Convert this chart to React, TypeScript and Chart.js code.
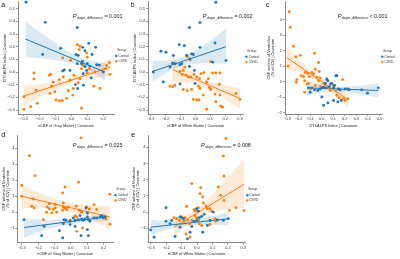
import React, { useEffect, useRef } from 'react';
import { Chart, registerables } from 'chart.js';

Chart.register(...registerables);

const FONT = "'Liberation Sans', Arial, Helvetica, sans-serif";
const BLUE = '#1f77b4';
const ORANGE = '#ff7f0e';
const BLUE_BAND = 'rgba(31,119,180,0.16)';
const ORANGE_BAND = 'rgba(255,127,14,0.16)';
const AXIS = '#555';

// ---------- tick values ----------
const xTicksA = [-0.3, -0.2, -0.1, 0, 0.1, 0.2];
const xTicksB = [-0.3, -0.2, -0.1, 0, 0.1, 0.2, 0.3];
const xTicksC = [-0.3, -0.2, -0.1, 0, 0.1, 0.2, 0.3, 0.4, 0.5];
const yTicksAB = [-0.3, -0.2, -0.1, 0, 0.1, 0.2, 0.3, 0.4, 0.5];
const yTicksC = [-2, -1, 0, 1, 2, 3, 4];
const yTicksDE = [-1, 0, 1, 2, 3, 4];

// ---------- panel a ----------
const aCtrlX = [-0.287,-0.166,-0.182,0.036,-0.069,0.028,0.042,0.07,0.108,0.084,0.152,0.129,0.068,0.036,0.063,0.099,0.116,0.158,0.175,-0.01,-0.056,-0.046,0.084,0.095,0.2,0.074,0.124,0.024,0.074,0.038];
const aCtrlY = [0.551,0.392,0.138,0.351,0.187,0.138,0.13,0.195,0.226,0.169,0.195,0.138,0.083,0.065,0.065,0.065,0.047,0.057,0.055,0.013,0.008,0.016,0.044,0.013,0.0,-0.013,-0.047,-0.099,-0.104,-0.13];
const aCsvdX = [-0.3,-0.3,-0.258,-0.237,-0.237,-0.224,-0.216,-0.14,-0.132,-0.115,-0.056,0.036,0.053,0.049,-0.006,0.095,0.099,0.238,0.221,0.213,0.242,0.179,0.141,0.063,-0.077,-0.058,-0.098,-0.136,-0.126,-0.105,-0.021,0.011,0.007,-0.031,-0.01,0.053,0.099,0.112,0.147,-0.052,-0.077,0.015,0.063,0.074,0.042];
const aCsvdY = [-0.195,-0.294,-0.273,-0.055,-0.008,-0.143,-0.247,-0.026,-0.018,-0.078,0.112,0.216,0.203,0.177,0.091,0.151,0.117,0.075,0.052,0.026,-0.018,-0.13,-0.112,-0.286,-0.226,-0.226,-0.221,-0.169,-0.112,-0.156,-0.148,-0.13,-0.182,-0.208,-0.065,-0.052,-0.008,0.026,0.0,-0.039,-0.06,-0.026,0.026,0.052,-0.086];
const aCtrlLineX = [-0.29, 0.21];
const aCtrlLineY = [0.26, 0.0];
const aCtrlBandX = [-0.29, -0.15, -0.05, 0.05, 0.13, 0.21];
const aCtrlBandLo = [0.12, 0.1, 0.085, 0.053, 0.0, -0.07];
const aCtrlBandHi = [0.4, 0.27, 0.185, 0.113, 0.09, 0.07];
const aCsvdLineX = [-0.3, 0.245];
const aCsvdLineY = [-0.19, 0.04];
const aCsvdBandX = [-0.3, -0.17, -0.05, 0.05, 0.15, 0.245];
const aCsvdBandLo = [-0.27, -0.18, -0.11, -0.07, -0.045, -0.03];
const aCsvdBandHi = [-0.11, -0.09, -0.06, -0.015, 0.045, 0.11];

// ---------- panel b ----------
const bCtrlX = [0.138,0.031,-0.04,-0.108,-0.074,-0.231,-0.197,-0.148,-0.025,-0.014,0.031,0.132,0.206,0.116,-0.036,-0.058,-0.092,-0.103,-0.152,-0.137,-0.17,-0.04,-0.007,-0.282,-0.215,-0.103,-0.002];
const bCtrlY = [0.551,0.39,0.351,0.216,0.208,0.164,0.156,0.13,0.143,0.138,0.195,0.229,0.091,0.078,0.104,0.13,0.065,0.057,0.07,0.065,0.039,0.044,0.013,0.0,-0.078,-0.094,-0.091];
const bCsvdX = [-0.054,-0.036,-0.07,-0.081,-0.103,-0.087,-0.063,-0.047,-0.032,-0.009,0.009,0.027,0.038,0.058,0.076,0.087,0.116,0.138,0.165,-0.17,-0.152,-0.137,-0.081,-0.054,-0.025,0.02,0.031,0.053,0.094,0.103,-0.014,0.009,0.024,0.132,0.161,0.165,0.138,0.076,0.17,0.183,0.273,0.3,0.103];
const bCsvdY = [0.122,0.096,0.039,0.013,0.005,-0.018,-0.026,-0.039,-0.039,-0.018,-0.039,-0.052,-0.013,-0.005,-0.078,-0.052,-0.008,-0.008,-0.008,-0.112,-0.117,-0.104,-0.138,-0.148,-0.138,-0.112,-0.13,-0.182,-0.122,-0.138,-0.216,-0.221,-0.221,-0.174,-0.096,-0.182,-0.234,-0.294,-0.268,-0.278,-0.169,-0.216,0.083];
const bCtrlLineX = [-0.287, 0.206];
const bCtrlLineY = [0.005, 0.2];
const bCtrlBandX = [-0.287, -0.2, -0.1, 0.0, 0.1, 0.206];
const bCtrlBandLo = [-0.08, -0.01, 0.045, 0.065, 0.07, 0.065];
const bCtrlBandHi = [0.09, 0.09, 0.113, 0.17, 0.245, 0.345];
const bCsvdLineX = [-0.152, 0.3];
const bCsvdLineY = [0.018, -0.208];
const bCsvdBandX = [-0.152, -0.05, 0.05, 0.12, 0.2, 0.3];
const bCsvdBandLo = [-0.085, -0.085, -0.115, -0.15, -0.21, -0.29];
const bCsvdBandHi = [0.117, 0.02, -0.05, -0.085, -0.105, -0.125];

// ---------- panel c ----------
const cCtrlX = [0.045,0.054,0.017,0.031,0.04,0.065,0.077,0.088,0.103,0.112,0.123,0.132,-0.012,0.002,-0.032,-0.113,-0.084,-0.061,-0.099,0.002,0.017,0.054,0.103,0.14,0.169,0.204,0.227,0.238,0.347,0.396,0.491,0.146,0.16];
const cCtrlY = [0.17,0.06,-0.36,-0.11,-0.4,-0.32,-0.15,-0.11,-0.4,-0.25,0.38,0.38,-0.47,-0.4,-0.57,-0.4,-0.4,-0.53,-0.68,-0.99,-1.52,-1.37,-1.21,-1.31,-1.21,-0.47,-0.47,-0.53,-0.53,-0.74,-0.4,-0.47,-0.53];
const cCsvdX = [-0.28,-0.271,-0.242,-0.291,-0.222,-0.185,-0.061,-0.027,-0.214,-0.219,-0.176,-0.156,-0.142,-0.119,-0.107,-0.084,-0.07,-0.055,-0.041,-0.027,-0.012,-0.021,-0.147,-0.127,-0.113,-0.147,-0.099,-0.055,-0.012,0.017,0.031,0.045,0.06,0.074,0.103,0.123,0.132,0.152,0.181,0.189,0.204,0.227];
const cCsvdY = [4.5,3.49,2.28,1.01,1.59,1.69,1.82,1.23,0.13,-0.04,0.38,0.32,0.59,0.53,0.32,0.59,0.49,0.8,0.27,0.06,0.23,0.66,0.06,-0.15,-0.11,-0.68,-0.47,-0.25,-0.32,-0.11,-0.19,0.11,-0.4,-0.57,-0.25,-0.61,-0.89,-1.04,0.13,-1.1,-1.21,-1.1];
const cCtrlLineX = [-0.127, 0.491];
const cCtrlLineY = [-0.4, -0.57];
const cCtrlBandX = [-0.127, 0.0, 0.1, 0.2, 0.35, 0.491];
const cCtrlBandLo = [-0.89, -0.68, -0.6, -0.65, -0.82, -1.04];
const cCtrlBandHi = [0.06, -0.19, -0.33, -0.33, -0.25, -0.1];
const cCsvdLineX = [-0.3, 0.227];
const cCsvdLineY = [1.54, -1.16];
const cCsvdBandX = [-0.3, -0.2, -0.1, 0.0, 0.1, 0.227];
const cCsvdBandLo = [0.8, 0.62, 0.3, -0.22, -0.83, -1.67];
const cCsvdBandHi = [2.28, 1.45, 0.73, 0.23, -0.19, -0.68];

// ---------- panel d ----------
const dCtrlX = [-0.286,-0.178,-0.163,-0.069,-0.049,-0.041,-0.029,-0.004,0.016,0.027,0.047,0.057,0.067,0.078,0.088,0.102,0.108,0.118,0.094,0.102,0.143,0.159,0.18,0.19,0.2,0.21,0.027,0.063,0.102,0.108,-0.045,-0.004];
const dCtrlY = [-0.46,-1.46,-0.88,-1.15,-1.6,-0.46,-0.5,-0.56,-0.35,-0.5,-0.46,-0.21,-0.42,-0.5,-0.42,-0.29,-0.46,-0.56,0.27,-0.04,-0.35,-0.35,-0.29,-0.21,-0.35,-0.29,-0.88,-1.46,-1.08,-1.46,-0.71,-0.77];
const dCsvdX = [0.063,-0.253,-0.218,-0.3,-0.3,0.047,-0.035,-0.049,-0.229,-0.239,-0.224,-0.143,-0.131,-0.106,-0.096,-0.049,-0.045,-0.035,-0.024,-0.014,-0.147,-0.116,-0.086,-0.096,-0.045,-0.131,0.033,0.053,0.098,0.114,0.143,0.159,0.027,0.067,0.037,-0.167,-0.004,0.037,0.073,0.241,0.2,0.216,0.24];
const dCsvdY = [4.65,3.54,2.29,1.67,1.0,1.88,1.58,1.21,0.83,0.38,0.27,0.33,0.21,0.17,0.27,0.13,0.33,0.27,0.17,0.33,0.0,-0.04,0.0,0.48,0.58,0.54,0.38,0.13,0.33,0.21,0.48,0.17,-0.21,0.0,-0.29,-0.46,-0.5,-1.19,-0.98,-0.75,-0.29,-0.42,1.13];
const dCtrlLineX = [-0.286, 0.22];
const dCtrlLineY = [-0.95, -0.29];
const dCtrlBandX = [-0.286, -0.2, -0.1, 0.0, 0.1, 0.22];
const dCtrlBandLo = [-1.6, -1.25, -0.95, -0.75, -0.6, -0.55];
const dCtrlBandHi = [-0.38, -0.43, -0.47, -0.41, -0.3, -0.04];
const dCsvdLineX = [-0.3, 0.241];
const dCsvdLineY = [1.0, -0.29];
const dCsvdBandX = [-0.3, -0.2, -0.1, 0.0, 0.1, 0.241];
const dCsvdBandLo = [0.25, 0.27, 0.22, 0.0, -0.35, -1.05];
const dCsvdBandHi = [1.73, 1.26, 0.83, 0.57, 0.44, 0.35];

// ---------- panel e ----------
const eCtrlX = [-0.3,-0.278,-0.201,-0.201,-0.175,-0.164,-0.142,-0.11,-0.099,-0.088,-0.062,-0.045,-0.034,-0.019,-0.002,0.015,0.03,0.046,-0.002,0.009,0.037,0.067,0.084,0.106,0.132,0.171,0.203,-0.11];
const eCtrlY = [-1.1,-1.55,-0.56,0.27,-0.72,-0.52,-1.51,-0.31,-0.35,-0.41,-1.66,-1.24,-0.89,-0.56,-0.52,-0.35,-0.27,-0.14,0.21,0.06,-1.24,-0.83,-0.52,0.0,-0.48,-0.52,-0.41,-0.93];
const eCsvdX = [0.188,0.171,0.175,0.138,-0.034,0.024,0.02,0.154,0.175,0.041,0.059,0.067,0.084,0.095,-0.067,-0.017,-0.002,0.009,-0.013,0.037,-0.132,-0.114,-0.106,-0.084,-0.078,-0.062,-0.049,-0.034,-0.013,-0.002,0.009,0.015,0.03,0.084,0.117,0.123,0.21,0.253,0.305,-0.071,-0.045,-0.149];
const eCsvdY = [4.55,3.46,2.22,1.55,1.76,1.51,1.14,1.04,0.72,0.56,0.35,0.21,0.21,0.06,0.35,0.17,0.14,0.27,0.06,0.93,-0.41,-0.52,-0.27,-0.56,-0.35,-0.48,-0.72,-0.52,-0.21,-0.35,-0.48,-0.72,-0.83,-0.77,-0.41,-0.56,0.1,0.27,0.1,-1.35,-1.55,-0.35];
const eCtrlLineX = [-0.3, 0.203];
const eCtrlLineY = [-0.93, -0.41];
const eCtrlBandX = [-0.3, -0.2, -0.1, 0.0, 0.1, 0.203];
const eCtrlBandLo = [-1.38, -1.1, -0.87, -0.78, -0.78, -0.83];
const eCtrlBandHi = [-0.47, -0.55, -0.58, -0.46, -0.26, 0.0];
const eCsvdLineX = [-0.149, 0.305];
const eCsvdLineY = [-0.93, 1.72];
const eCsvdBandX = [-0.149, -0.05, 0.05, 0.15, 0.22, 0.305];
const eCsvdBandLo = [-1.55, -0.65, -0.15, 0.1, 0.2, 0.27];
const eCsvdBandHi = [-0.3, -0.05, 0.6, 1.65, 2.35, 3.25];

const TITLE_GM = 'nCBF of Gray Matter | Covariate';
const TITLE_WM = 'nCBF of White Matter | Covariate';
const TITLE_ALPS = 'DTI-ALPS Index | Covariate';
const TITLE_CSF = ['CSF volume of Ventricles', '(% of ICV) | Covariate'];

const pts = (xs: number[], ys: number[]) => xs.map((x, i) => ({ x, y: ys[i] }));

const fmt = (v: number, d: number) => {
  const s = Math.abs(v) < 1e-9 ? (0).toFixed(d) : Number(v).toFixed(d);
  return s.replace('-', '\u2212');
};

type Group = {
  x: number[]; y: number[]; lx: number[]; ly: number[];
  bx: number[]; blo: number[]; bhi: number[];
};

const PANELS = [
  {
    letter: 'a', left: 0, top: 0, w: 133, h: 130,
    yAxisW: 18, padTop: 0, padRight: 19, xAxisH: 16,
    xMin: -0.3378, xMax: 0.2675, yMin: -0.331, yMax: 0.557,
    xTicks: xTicksA, yTicks: yTicksAB, xDec: 1, yDec: 1,
    xTitle: TITLE_GM, yTitle: TITLE_ALPS, yTitlePad: 2.2, xTitlePad: 2.2,
    pX: 72.7, pY: 18, pOp: '=', pVal: '0.001', lgX: 116.3, lgY: 50.3, ltX: 3.3, ltY: 4.7,
    ctrl: { x: aCtrlX, y: aCtrlY, lx: aCtrlLineX, ly: aCtrlLineY, bx: aCtrlBandX, blo: aCtrlBandLo, bhi: aCtrlBandHi },
    csvd: { x: aCsvdX, y: aCsvdY, lx: aCsvdLineX, ly: aCsvdLineY, bx: aCsvdBandX, blo: aCsvdBandLo, bhi: aCsvdBandHi },
  },
  {
    letter: 'b', left: 130, top: 0, w: 135, h: 130,
    yAxisW: 18, padTop: 0, padRight: 22, xAxisH: 16,
    xMin: -0.318, xMax: 0.32, yMin: -0.331, yMax: 0.557,
    xTicks: xTicksB, yTicks: yTicksAB, xDec: 1, yDec: 1,
    xTitle: TITLE_WM, yTitle: TITLE_ALPS, yTitlePad: 2.7, xTitlePad: 2.2,
    pX: 72.7, pY: 17.5, pOp: '=', pVal: '0.002', lgX: 116.5, lgY: 51, ltX: 2.7, ltY: 5,
    ctrl: { x: bCtrlX, y: bCtrlY, lx: bCtrlLineX, ly: bCtrlLineY, bx: bCtrlBandX, blo: bCtrlBandLo, bhi: bCtrlBandHi },
    csvd: { x: bCsvdX, y: bCsvdY, lx: bCsvdLineX, ly: bCsvdLineY, bx: bCsvdBandX, blo: bCsvdBandLo, bhi: bCsvdBandHi },
  },
  {
    letter: 'c', left: 265, top: 0, w: 135, h: 130,
    yAxisW: 20, padTop: 0, padRight: 18, xAxisH: 16,
    xMin: -0.317, xMax: 0.522, yMin: -2.083, yMax: 5.16,
    xTicks: xTicksC, yTicks: yTicksC, xDec: 1, yDec: 0,
    xTitle: TITLE_ALPS, yTitle: TITLE_CSF, yTitlePad: 2.35, xTitlePad: 2.2,
    pX: 72.7, pY: 17.5, pOp: '<', pVal: '0.001', lgX: 117.3, lgY: 51, ltX: 2.7, ltY: 5,
    ctrl: { x: cCtrlX, y: cCtrlY, lx: cCtrlLineX, ly: cCtrlLineY, bx: cCtrlBandX, blo: cCtrlBandLo, bhi: cCtrlBandHi },
    csvd: { x: cCsvdX, y: cCsvdY, lx: cCsvdLineX, ly: cCsvdLineY, bx: cCsvdBandX, blo: cCsvdBandLo, bhi: cCsvdBandHi },
  },
  {
    letter: 'd', left: 0, top: 130, w: 133, h: 129,
    yAxisW: 17.3, padTop: 5, padRight: 20, xAxisH: 16.3,
    xMin: -0.327, xMax: 0.259, yMin: -1.9, yMax: 4.83,
    xTicks: xTicksA, yTicks: yTicksDE, xDec: 1, yDec: 0,
    xTitle: TITLE_GM, yTitle: TITLE_CSF, yTitlePad: 2.35, xTitlePad: 2.7,
    pX: 72.7, pY: 17, pOp: '=', pVal: '0.025', lgX: 115.5, lgY: 59.5, ltX: 3.3, ltY: 4.7,
    ctrl: { x: dCtrlX, y: dCtrlY, lx: dCtrlLineX, ly: dCtrlLineY, bx: dCtrlBandX, blo: dCtrlBandLo, bhi: dCtrlBandHi },
    csvd: { x: dCsvdX, y: dCsvdY, lx: dCsvdLineX, ly: dCsvdLineY, bx: dCsvdBandX, blo: dCsvdBandLo, bhi: dCsvdBandHi },
  },
  {
    letter: 'e', left: 130, top: 130, w: 135, h: 129,
    yAxisW: 18.3, padTop: 5, padRight: 20, xAxisH: 16.3,
    xMin: -0.3156, xMax: 0.311, yMin: -1.889, yMax: 4.76,
    xTicks: xTicksB, yTicks: yTicksDE, xDec: 1, yDec: 0,
    xTitle: TITLE_WM, yTitle: TITLE_CSF, yTitlePad: 1.75, xTitlePad: 2.7,
    pX: 71, pY: 17, pOp: '=', pVal: '0.008', lgX: 117.3, lgY: 59.5, ltX: 3.3, ltY: 4.7,
    ctrl: { x: eCtrlX, y: eCtrlY, lx: eCtrlLineX, ly: eCtrlLineY, bx: eCtrlBandX, blo: eCtrlBandLo, bhi: eCtrlBandHi },
    csvd: { x: eCsvdX, y: eCsvdY, lx: eCsvdLineX, ly: eCsvdLineY, bx: eCsvdBandX, blo: eCsvdBandLo, bhi: eCsvdBandHi },
  },
];

const decorPlugin = {
  id: 'decor',
  afterDraw(chart: any, _args: any, o: any) {
    const ctx = chart.ctx;
    ctx.save();
    // panel letter
    ctx.fillStyle = '#111';
    ctx.font = `7px ${FONT}`;
    ctx.textAlign = 'center';
    ctx.textBaseline = 'middle';
    ctx.fillText(o.letter, o.ltX, o.ltY);
    // P annotation
    ctx.textAlign = 'left';
    ctx.textBaseline = 'alphabetic';
    ctx.fillStyle = '#1a1a1a';
    let x = o.pX;
    ctx.font = `italic 5.6px ${FONT}`;
    ctx.fillText('P', x, o.pY);
    x += ctx.measureText('P').width + 0.2;
    ctx.font = `3.6px ${FONT}`;
    ctx.fillText('slope_difference', x, o.pY + 1.3);
    x += ctx.measureText('slope_difference').width;
    ctx.font = `5.4px ${FONT}`;
    ctx.fillText(` ${o.pOp} ${o.pVal}`, x, o.pY);
    // legend
    ctx.font = `3.2px ${FONT}`;
    const entryW = 2.4 + ctx.measureText('Control').width;
    ctx.fillStyle = '#333';
    ctx.font = `3.4px ${FONT}`;
    ctx.textAlign = 'center';
    ctx.textBaseline = 'middle';
    ctx.fillText('Group', o.lgX - 1.2 + entryW / 2, o.lgY);
    const items = [
      { label: 'Control', color: BLUE, dy: 5.7 },
      { label: 'CSVD', color: ORANGE, dy: 11 },
    ];
    ctx.textAlign = 'left';
    ctx.font = `3.2px ${FONT}`;
    for (const it of items) {
      ctx.beginPath();
      ctx.fillStyle = it.color;
      ctx.arc(o.lgX, o.lgY + it.dy, 1.2, 0, Math.PI * 2);
      ctx.fill();
      ctx.fillStyle = '#333';
      ctx.fillText(it.label, o.lgX + 2.2, o.lgY + it.dy);
    }
    ctx.restore();
  },
};

function groupDatasets(g: Group, color: string, band: string) {
  return [
    {
      type: 'scatter', data: pts(g.x, g.y), backgroundColor: color, borderWidth: 0,
      pointRadius: 1.45, pointHoverRadius: 1.45, order: 1, clip: false,
    },
    {
      type: 'line', data: pts(g.lx, g.ly), borderColor: color, borderWidth: 1,
      pointRadius: 0, fill: false, order: 2, tension: 0,
    },
  ];
}

function bandDatasets(g: Group, band: string) {
  return [
    {
      type: 'line', data: pts(g.bx, g.bhi), borderWidth: 0, borderColor: 'rgba(0,0,0,0)',
      backgroundColor: band, pointRadius: 0, fill: '+1', order: 3, cubicInterpolationMode: 'monotone',
    },
    {
      type: 'line', data: pts(g.bx, g.blo), borderWidth: 0, borderColor: 'rgba(0,0,0,0)',
      pointRadius: 0, fill: false, order: 3, cubicInterpolationMode: 'monotone',
    },
  ];
}

function buildConfig(p: any): any {
  const datasets = [
    ...groupDatasets(p.ctrl, BLUE, BLUE_BAND),
    ...groupDatasets(p.csvd, ORANGE, ORANGE_BAND),
    ...bandDatasets(p.ctrl, BLUE_BAND),
    ...bandDatasets(p.csvd, ORANGE_BAND),
  ];
  const twoLine = Array.isArray(p.yTitle);
  return {
    type: 'scatter',
    data: { datasets },
    plugins: [decorPlugin],
    options: {
      animation: false,
      responsive: false,
      maintainAspectRatio: false,
      devicePixelRatio: 1,
      events: [],
      layout: { padding: { left: 0, top: p.padTop, right: p.padRight, bottom: 0 } },
      plugins: {
        legend: { display: false },
        tooltip: { enabled: false },
        decor: p,
      },
      scales: {
        x: {
          type: 'linear', min: p.xMin, max: p.xMax,
          afterBuildTicks: (s: any) => { s.ticks = p.xTicks.map((v: number) => ({ value: v })); },
          afterFit: (s: any) => { s.height = p.xAxisH; s.paddingLeft = 0; s.paddingRight = 0; },
          grid: { drawOnChartArea: false, drawTicks: true, tickLength: 2, color: AXIS, lineWidth: 0.6 },
          border: { display: true, color: AXIS, width: 0.7 },
          ticks: {
            autoSkip: false, maxRotation: 0, minRotation: 0, padding: 0.8, color: '#333',
            font: { family: FONT, size: 3.9 },
            callback: (v: any) => fmt(Number(v), p.xDec),
          },
          title: {
            display: true, text: p.xTitle, color: '#222',
            font: { family: FONT, size: 3.9 }, padding: { top: 0, bottom: p.xTitlePad },
          },
        },
        y: {
          type: 'linear', min: p.yMin, max: p.yMax,
          afterBuildTicks: (s: any) => { s.ticks = p.yTicks.map((v: number) => ({ value: v })); },
          afterFit: (s: any) => { s.width = p.yAxisW; s.paddingTop = 0; s.paddingBottom = 0; },
          grid: { drawOnChartArea: false, drawTicks: true, tickLength: 2, color: AXIS, lineWidth: 0.6 },
          border: { display: true, color: AXIS, width: 0.7 },
          ticks: {
            autoSkip: false, padding: 1, color: '#333',
            font: { family: FONT, size: 3.9 },
            callback: (v: any) => fmt(Number(v), p.yDec),
          },
          title: {
            display: true, text: p.yTitle, color: '#222',
            font: { family: FONT, size: 3.9, lineHeight: twoLine ? 1.0 : 1.2 },
            padding: { top: p.yTitlePad, bottom: 0 },
          },
        },
      },
    },
  };
}

function Panel({ cfg }: { cfg: any }) {
  const ref = useRef<HTMLCanvasElement>(null);
  useEffect(() => {
    if (!ref.current) return;
    const chart = new Chart(ref.current, buildConfig(cfg));
    return () => chart.destroy();
  }, [cfg]);
  return (
    <canvas
      ref={ref}
      width={cfg.w}
      height={cfg.h}
      style={{ position: 'absolute', left: cfg.left, top: cfg.top, width: cfg.w, height: cfg.h }}
    />
  );
}

export default function App() {
  return (
    <div style={{ position: 'fixed', left: 0, top: 0, width: 400, height: 259, background: '#fff', overflow: 'hidden' }}>
      {PANELS.map((p) => (
        <Panel key={p.letter} cfg={p} />
      ))}
    </div>
  );
}
